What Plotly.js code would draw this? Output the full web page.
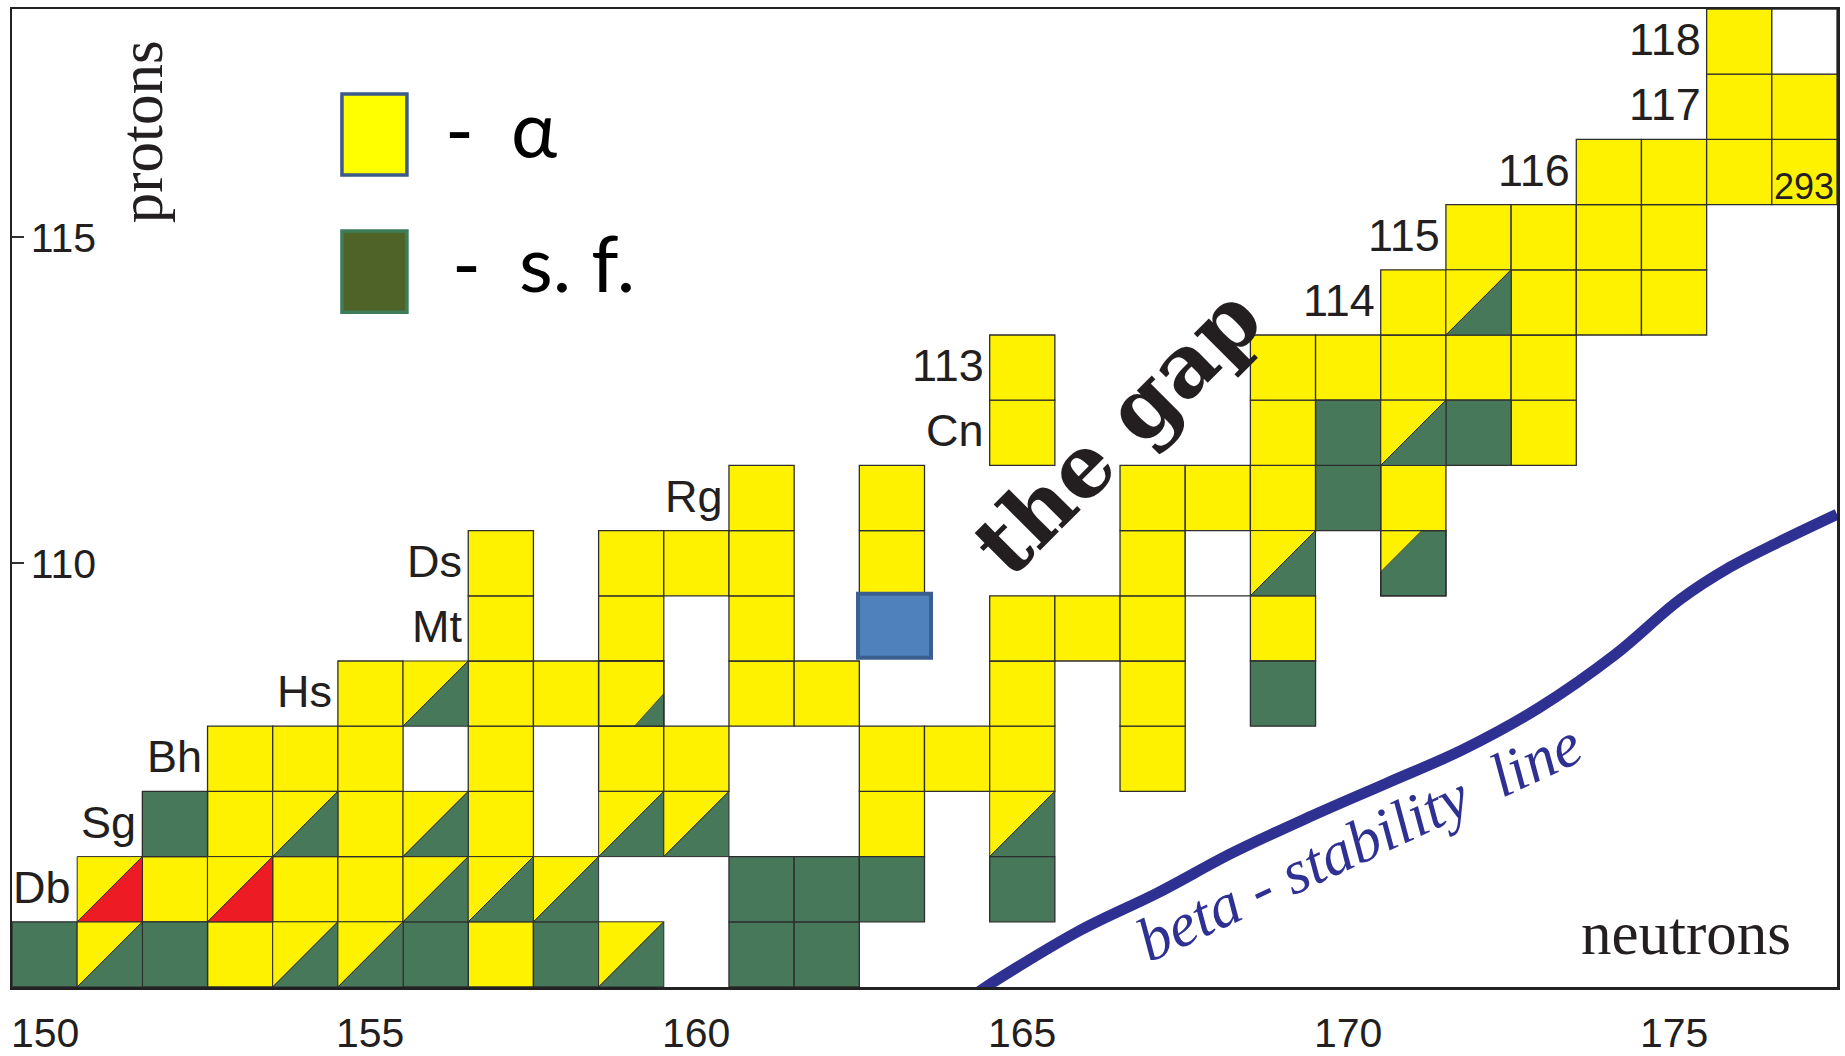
<!DOCTYPE html>
<html>
<head>
<meta charset="utf-8">
<script src="https://cdn.plot.ly/plotly-3.0.1.min.js"></script>
<style>
  html, body { margin: 0; padding: 0; background: #ffffff; }
  #chart { width: 1845px; height: 1056px; }
</style>
</head>
<body>
<div id="chart"></div>
<script>
// ---------------- DATA ----------------
// Neutron number (N) and proton number (Z) of each nuclide, by decay mode.
const alphaN = [153,157, 152,154,155, 153,155,157,163,
                153,154,155,157,159,160,163,164,165,167,
                155,157,158,161,162,165,167,
                157,159,161,165,166,167,169,
                157,159,160,161,163,167,
                161,163,167,168,169,171,
                165,169,173,
                165,169,170,171,172,173,
                171,173,174,175,
                172,173,174,175,
                174,175,176,177,
                176,177,
                176];
const alphaZ = [104,104, 105,105,105, 106,106,106,106,
                107,107,107,107,107,107,107,107,107,107,
                108,108,108,108,108,108,108,
                109,109,109,109,109,109,109,
                110,110,110,110,110,110,
                111,111,111,111,111,111,
                112,112,112,
                113,113,113,113,113,113,
                114,114,114,114,
                115,115,115,115,
                116,116,116,116,
                117,117,
                118];
// spontaneous fission
const sfN = [150,152,156,158,161,162, 161,162,163,165, 152, 169, 170, 170,172];
const sfZ = [104,104,104,104,104,104, 105,105,105,105, 106, 108, 111, 112,112];
// alpha + s.f. (diagonally split)
const mixN = [151,154,155,159, 156,157,158, 154,156,159,160,165, 156, 169, 171, 172];
const mixZ = [104,104,104,104, 105,105,105, 106,106,106,106,106, 108, 110, 112, 114];
// alpha + red (diagonally split)
const redN = [151,153];
const redZ = [105,105];
// alpha with a small s.f. branch
const smallSfN = [159];
const smallSfZ = [108];
// s.f. with a small alpha branch
const smallAlphaN = [171];
const smallAlphaZ = [110];
// highlighted nuclide
const blueN = [163];
const blueZ = [109];
// empty framed cells
const emptyN = [168,177];
const emptyZ = [110,118];
// element labels
const labelText = ['Db','Sg','Bh','Hs','Mt','Ds','Rg','Cn','113','114','115','116','117','118'];
const labelZ    = [105,106,107,108,109,110,111,112,113,114,115,116,117,118];
const labelN    = [151,152,153,155,157,157,161,165,165,171,172,174,176,176];
// mass number note
const noteText = ['293'];
const noteN = [177];
const noteZ = [116];
// beta-stability line
const betaN = [164.3,164.44,165.89,167.07,168.23,169.41,170.60,171.76,172.94,174.1,175.09,175.86,176.62,177.5];
const betaZ = [103.4,103.5,104.37,104.94,105.56,106.11,106.63,107.14,107.79,108.6,109.44,109.94,110.33,110.75];
// axes ticks
const xTicks = [150,155,160,165,170,175];
const yTicks = [110,115];

// ---------------- STYLE ----------------
const YELLOW = '#fff200';
const GREEN = '#47785a';
const RED = '#ed1c24';
const EDGE = {color: '#2d2d2d', width: 1.3};
const TXT = '#231f20';

const shapes = [];
function rectShape(n, z, fill, line) {
  shapes.push({type: 'rect', xref: 'x', yref: 'y', layer: 'above',
    x0: n - 0.5, x1: n + 0.5, y0: z - 0.5, y1: z + 0.5,
    fillcolor: fill, line: line || EDGE});
}
function polyShape(pts, fill, line) {
  const path = 'M ' + pts.map(p => p[0] + ',' + p[1]).join(' L ') + ' Z';
  shapes.push({type: 'path', xref: 'x', yref: 'y', layer: 'above', path: path,
    fillcolor: fill, line: line || {color: '#2d2d2d', width: 1}});
}
function diag(n, z, upper, lower) {
  const x0 = n - 0.5, x1 = n + 0.5, y0 = z - 0.5, y1 = z + 0.5;
  polyShape([[x0, y0], [x0, y1], [x1, y1]], upper);
  polyShape([[x0, y0], [x1, y1], [x1, y0]], lower);
}

alphaN.forEach((n, i) => rectShape(n, alphaZ[i], YELLOW));
sfN.forEach((n, i) => rectShape(n, sfZ[i], GREEN));
mixN.forEach((n, i) => diag(n, mixZ[i], YELLOW, GREEN));
redN.forEach((n, i) => diag(n, redZ[i], YELLOW, RED));
smallSfN.forEach((n, i) => {
  const z = smallSfZ[i];
  rectShape(n, z, YELLOW);
  polyShape([[n + 0.5 - 0.45, z - 0.5], [n + 0.5, z - 0.5 + 0.5], [n + 0.5, z - 0.5]], GREEN, {color: '#3a3a3a', width: 0.8});
  rectShape(n, z, 'rgba(0,0,0,0)');
});
smallAlphaN.forEach((n, i) => {
  const z = smallAlphaZ[i];
  rectShape(n, z, GREEN);
  polyShape([[n - 0.5, z + 0.5], [n - 0.5 + 0.63, z + 0.5], [n - 0.5, z + 0.5 - 0.63]], YELLOW, {color: '#3a3a3a', width: 0.8});
  rectShape(n, z, 'rgba(0,0,0,0)');
});
emptyN.forEach((n, i) => rectShape(n, emptyZ[i], '#ffffff'));
blueN.forEach((n, i) => {
  const z = blueZ[i];
  shapes.push({type: 'rect', xref: 'x', yref: 'y', layer: 'above',
    x0: n - 0.52, x1: n + 0.6, y0: z - 0.45, y1: z + 0.53,
    fillcolor: '#4f81bd', line: {color: '#3a5f8f', width: 4}});
});

// legend swatches (paper coords)
shapes.push({type: 'rect', xref: 'paper', yref: 'paper', layer: 'above',
  x0: 0.1808, x1: 0.2164, y0: 0.8303, y1: 0.9131,
  fillcolor: '#ffff00', line: {color: '#3c5a8a', width: 3.5}});
shapes.push({type: 'rect', xref: 'paper', yref: 'paper', layer: 'above',
  x0: 0.1808, x1: 0.2164, y0: 0.690, y1: 0.773,
  fillcolor: '#4f6228', line: {color: '#3d7d5a', width: 3.5}});

// ---------------- ANNOTATIONS ----------------
const annotations = [];
const tickFont = {family: 'Liberation Sans, Arial, sans-serif', size: 41, color: TXT};
// x-axis tick labels (placed on the x scale, below the frame)
xTicks.forEach(v => {
  annotations.push({text: String(v), xref: 'x', yref: 'paper', x: v, y: 0,
    xanchor: 'center', yanchor: 'middle', yshift: -46, showarrow: false, font: tickFont});
});
labelText.forEach((t, i) => {
  annotations.push({text: t, xref: 'x', yref: 'y', x: labelN[i] - 0.5, y: labelZ[i] + 0.03,
    xanchor: 'right', yanchor: 'middle', xshift: -4, showarrow: false,
    font: {family: 'Liberation Sans, Arial, sans-serif', size: 45, color: TXT}});
});
noteText.forEach((t, i) => {
  annotations.push({text: t, xref: 'x', yref: 'y', x: noteN[i], y: noteZ[i] - 0.22,
    xanchor: 'center', yanchor: 'middle', showarrow: false,
    font: {family: 'Liberation Sans, Arial, sans-serif', size: 36, color: TXT}});
});
const LEG = {family: 'Lato, "Noto Sans", sans-serif', size: 78, color: '#000000'};
annotations.push({text: '-', xref: 'paper', yref: 'paper', x: 0.2362, y: 0.878, xanchor: 'left', yanchor: 'middle', showarrow: false, font: LEG});
annotations.push({text: 'α', xref: 'paper', yref: 'paper', x: 0.2724, y: 0.878, xanchor: 'left', yanchor: 'middle', showarrow: false, font: LEG});
annotations.push({text: '-', xref: 'paper', yref: 'paper', x: 0.2401, y: 0.741, xanchor: 'left', yanchor: 'middle', showarrow: false, font: LEG});
annotations.push({text: 's. f.', xref: 'paper', yref: 'paper', x: 0.2768, y: 0.741, xanchor: 'left', yanchor: 'middle', showarrow: false, font: LEG});

annotations.push({text: 'protons', xref: 'paper', yref: 'paper', x: 0.0707, y: 0.874,
  xanchor: 'center', yanchor: 'middle', textangle: -90, showarrow: false,
  font: {family: 'Liberation Serif, "Times New Roman", serif', size: 61, color: TXT}});
annotations.push({text: 'neutrons', xref: 'paper', yref: 'paper', x: 0.9173, y: 0.0542,
  xanchor: 'center', yanchor: 'middle', showarrow: false,
  font: {family: 'Liberation Serif, "Times New Roman", serif', size: 61, color: TXT}});
annotations.push({text: '<b>the gap</b>', xref: 'x', yref: 'y', x: 166.45, y: 112.04,
  xanchor: 'center', yanchor: 'middle', textangle: -45, showarrow: false,
  font: {family: '"DejaVu Serif", serif', size: 86, color: TXT}});
annotations.push({text: '<i>beta - stability \u00a0line</i>', xref: 'x', yref: 'y', x: 170.16, y: 105.72,
  xanchor: 'center', yanchor: 'middle', textangle: -25, showarrow: false,
  font: {family: 'Liberation Serif, "Times New Roman", serif', size: 62, color: '#2e3192'}});

// ---------------- TRACES ----------------
const traces = [{
  type: 'scatter', mode: 'lines', x: betaN, y: betaZ,
  line: {color: '#2e3192', width: 11, shape: 'spline', smoothing: 1},
  hoverinfo: 'skip'
}];

const layout = {
  width: 1845, height: 1056,
  margin: {l: 12, r: 8, t: 9, b: 69, pad: 0},
  paper_bgcolor: '#ffffff', plot_bgcolor: '#ffffff',
  showlegend: false,
  xaxis: {range: [149.5, 177.5], tickmode: 'array', tickvals: xTicks, showticklabels: false,
    showgrid: false, zeroline: false, showline: true, mirror: true, linecolor: '#222222', linewidth: 2.5,
    ticks: '', fixedrange: true},
  yaxis: {range: [103.5, 118.5], tickmode: 'array', tickvals: yTicks, ticktext: yTicks.map(String),
    showgrid: false, zeroline: false, showline: true, mirror: true, linecolor: '#222222', linewidth: 2.5,
    ticks: 'inside', ticklen: 12, tickwidth: 1.5, tickcolor: '#333333', ticklabelposition: 'inside',
    ticklabelstandoff: 12, tickfont: tickFont, fixedrange: true},
  shapes: shapes,
  annotations: annotations
};

Plotly.newPlot('chart', traces, layout, {displayModeBar: false, staticPlot: true});
</script>
</body>
</html>
